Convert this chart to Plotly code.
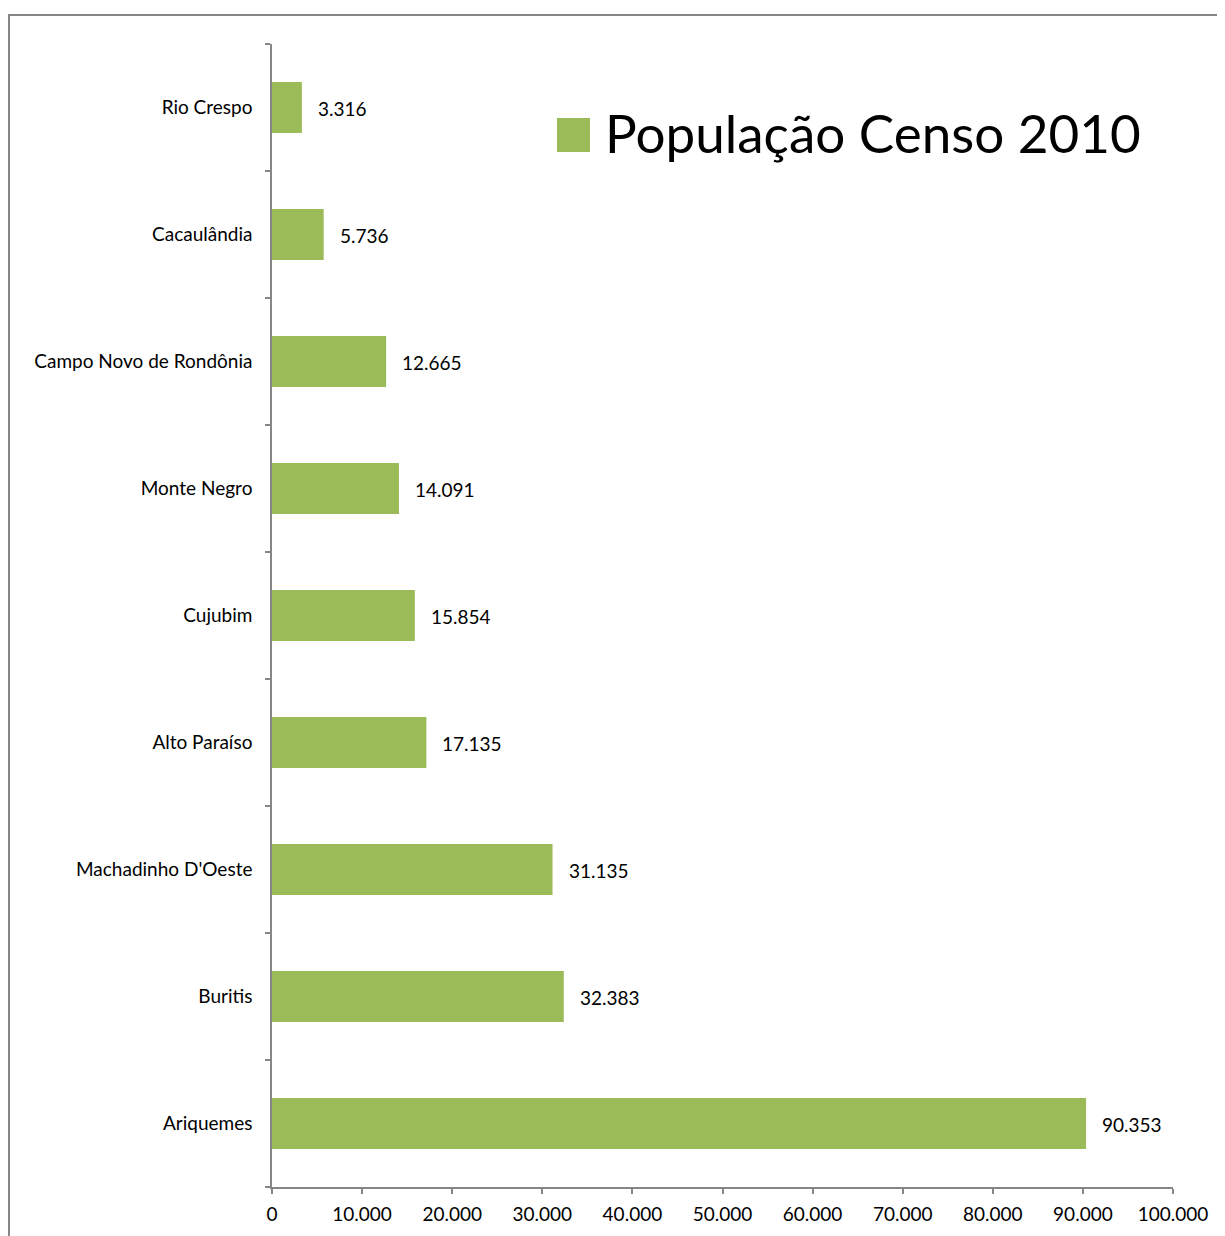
import plotly.graph_objects as go

categories = ["Ariquemes", "Buritis", "Machadinho D'Oeste", "Alto Paraíso", "Cujubim",
              "Monte Negro", "Campo Novo de Rondônia", "Cacaulândia", "Rio Crespo"]
population = [90353, 32383, 31135, 17135, 15854, 14091, 12665, 5736, 3316]
x_ticks = [0, 10000, 20000, 30000, 40000, 50000, 60000, 70000, 80000, 90000, 100000]
series_name = "População Censo 2010"

FONT = "Lato"
GREEN = "#9BBB59"
GRAY = "#868686"

def fmt(v):
    return f"{v:,}".replace(",", ".")

fig = go.Figure()
fig.add_trace(go.Bar(
    y=categories, x=population, orientation="h", name=series_name,
    marker=dict(color=GREEN, line=dict(width=0)), width=0.4, showlegend=False,
))

annotations = [
    dict(x=v, y=c, xref="x", yref="y", text=fmt(v), showarrow=False,
         xanchor="left", yanchor="middle", xshift=14, yshift=-1,
         font=dict(family=FONT, size=19, color="black"))
    for c, v in zip(categories, population)
]
# legend text
annotations.append(dict(x=(602 - 271) / 901, y=(1187 - 133) / 1143, xref="paper", yref="paper",
                        text=series_name, showarrow=False, xanchor="left", yanchor="middle",
                        font=dict(family=FONT, size=53, color="black")))

shapes = [
    # outer frame
    dict(type="rect", xref="paper", yref="paper",
         x0=(8 - 271) / 901, x1=1.2, y0=-0.2, y1=(1187 - 15) / 1143,
         line=dict(color=GRAY, width=2), fillcolor="rgba(0,0,0,0)", layer="below"),
    # legend square
    dict(type="rect", xref="paper", yref="paper",
         x0=(556 - 271) / 901, x1=(589 - 271) / 901,
         y0=(1187 - 152) / 1143, y1=(1187 - 118) / 1143,
         line=dict(width=0), fillcolor=GREEN),
]

fig.update_layout(
    width=1225, height=1236,
    margin=dict(l=264, r=60, t=36, b=57, autoexpand=False),
    paper_bgcolor="white", plot_bgcolor="white",
    separators=",.",
    font=dict(family=FONT, size=19, color="black"),
    showlegend=False,
    annotations=annotations, shapes=shapes,
)
fig.update_xaxes(
    range=[0, 100000], tickvals=x_ticks, tickformat=",.0f",
    showgrid=False, zeroline=False, showline=True, linecolor=GRAY, linewidth=1.5,
    ticks="outside", ticklen=5, tickcolor=GRAY, tickwidth=1.5,
    ticklabelstandoff=4,
    tickfont=dict(family=FONT, size=19, color="black"),
)
fig.update_yaxes(
    type="category", categoryorder="array", categoryarray=categories,
    range=[-0.5, len(categories) - 0.5],
    showgrid=False, zeroline=False, showline=True, linecolor=GRAY, linewidth=1.5,
    ticks="outside", ticklen=5, tickcolor=GRAY, tickwidth=1.5, tickson="boundaries",
    ticklabelstandoff=14,
    tickfont=dict(family=FONT, size=19, color="black"),
)

fig.write_html("out.html")
